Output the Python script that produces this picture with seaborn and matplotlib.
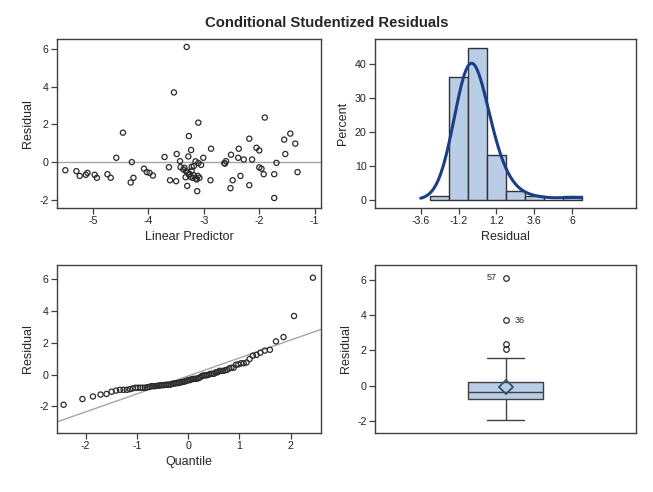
import numpy as np
import pandas as pd
import matplotlib
matplotlib.use("Agg")
import matplotlib.pyplot as plt
import seaborn as sns
from statistics import NormalDist

# Style
sns.set_style("ticks")
plt.rcParams["font.family"] = ["Liberation Sans", "DejaVu Sans"]
plt.rcParams["axes.unicode_minus"] = False

# Data
lin_pred = [-5.50, -5.30, -5.24, -5.13, -5.10, -4.97, -4.93, -4.74, -4.68, -4.58,
            -4.46, -4.32, -4.30, -4.27, -4.08, -4.03, -3.98, -3.92, -3.71, -3.63,
            -3.61, -3.54, -3.50, -3.49, -3.43, -3.42, -3.37, -3.33, -3.32, -3.31,
            -3.30, -3.29, -3.28, -3.27, -3.27, -3.24, -3.23, -3.22, -3.20, -3.18,
            -3.15, -3.14, -3.12, -3.11, -3.10, -3.10, -3.08, -3.01, -2.88, -2.87,
            -2.63, -2.60, -2.52, -2.51, -2.48, -2.37, -2.38, -2.34, -2.28, -2.18,
            -2.18, -2.13, -2.05, -2.00, -2.00, -1.96, -1.92, -1.90, -1.73, -1.73,
            -1.69, -1.55, -1.53, -1.44, -1.35, -1.31,
            -3.26, -3.18, -3.13, -3.35, -3.05, -3.22, -2.62]
resid = [-0.43, -0.48, -0.73, -0.67, -0.57, -0.67, -0.83, -0.64, -0.83, 0.23,
         1.56, -1.08, 0.00, -0.83, -0.35, -0.53, -0.57, -0.71, 0.27, -0.27,
         -0.96, 3.69, -1.01, 0.43, 0.05, -0.27, -0.39, -0.80, -0.48, 6.10,
         -1.26, -0.55, 0.30, 1.38, -0.66, -0.78, 0.64, -0.25, -0.83, -0.21,
         0.04, -0.87, -1.54, -0.73, -0.05, 2.09, -0.83, 0.23, -0.96, 0.71,
         -0.05, 0.05, -1.38, 0.39, -0.96, 0.71, 0.23, -0.73, 0.14, 1.24,
         -1.22, 0.14, 0.76, 0.62, -0.28, -0.35, -0.64, 2.36, -0.64, -1.90,
         -0.04, 1.19, 0.43, 1.51, 0.98, -0.53,
         -0.62, -0.70, -0.92, -0.30, -0.15, -0.45, -0.08]
outlier_labels = ["57", "36"]  # observation numbers of the two largest residuals

hist_ticks = [-3.6, -1.2, 1.2, 3.6, 6]

df = pd.DataFrame({"lin_pred": lin_pred, "resid": resid})

# normal quantiles (Blom) for the Q-Q plot
n = len(resid)
df_qq = pd.DataFrame({"resid": np.sort(resid)})
df_qq["quantile"] = [NormalDist().inv_cdf((i + 1 - 0.375) / (n + 0.25)) for i in range(n)]

# Colors
FRAME = "#404040"
FILL = "#B9CDE6"
FIT = "#1B3F84"
REF = "#A6A6A6"
TICK_FS = 7.7
LAB_FS = 9

W, H = 653, 492
fig = plt.figure(figsize=(W / 100, H / 100), dpi=100)


def box(l, t, r, b):
    return [l / W, (H - b) / H, (r - l) / W, (b - t) / H]


ax1 = fig.add_axes(box(57, 39, 321, 208))
ax2 = fig.add_axes(box(375, 39, 636, 208))
ax3 = fig.add_axes(box(57, 265, 321, 433))
ax4 = fig.add_axes(box(375, 265, 636, 433))

fig.suptitle("Conditional Studentized Residuals", y=1 - 23 / H, va="center",
             fontsize=10.7, fontweight="bold")

circle = dict(marker="o", facecolor="none", edgecolor="#2b2b2b", s=14, linewidth=0.9)

# Residual vs linear predictor
ax1.axhline(0, color=REF, lw=1, zorder=1)
sns.scatterplot(x="lin_pred", y="resid", data=df, ax=ax1, **circle)
ax1.set_xlim(-5.65, -0.886)
ax1.set_ylim(-2.43, 6.52)
ax1.set_xticks([-5, -4, -3, -2, -1])
ax1.set_xlabel("Linear Predictor")
ax1.set_ylabel("Residual")

# Histogram with kernel density
sns.histplot(x=resid, ax=ax2, bins=np.arange(-3.0, 6.61, 1.2), stat="percent",
             color=FILL, alpha=1, edgecolor="#333333", linewidth=1,
             kde=True, kde_kws={"bw_adjust": 1.95, "cut": 3, "clip": (-3.6, 6.6)},
             line_kws={"lw": 2.2})
ax2.lines[0].set_color(FIT)
ax2.set_xlim(-6.5, 10.05)
ax2.set_ylim(-2.46, 47.2)
ax2.set_xticks(hist_ticks)
ax2.set_xticklabels(["-3.6", "-1.2", "1.2", "3.6", "6"])
ax2.set_yticks([0, 10, 20, 30, 40])
ax2.set_xlabel("Residual")
ax2.set_ylabel("Percent")

# Q-Q plot
mu, sd = np.mean(resid), np.std(resid, ddof=1)
ax3.axline((0, mu), slope=sd, color=REF, lw=1, zorder=1)
sns.scatterplot(x="quantile", y="resid", data=df_qq, ax=ax3, **circle)
ax3.set_xlim(-2.56, 2.59)
ax3.set_ylim(-3.68, 6.9)
ax3.set_xticks([-2, -1, 0, 1, 2])
ax3.set_xlabel("Quantile")
ax3.set_ylabel("Residual")

# Box plot
sns.boxplot(y=resid, ax=ax4, width=0.29, color=FILL, saturation=1, linewidth=1,
            linecolor=FRAME, showmeans=True,
            meanprops=dict(marker="D", markerfacecolor="none", markeredgecolor="#34506e",
                           markersize=7, markeredgewidth=1.3),
            flierprops=dict(marker="o", markerfacecolor="none", markeredgecolor="#2b2b2b",
                            markersize=4, markeredgewidth=0.9))
ax4.set_xlim(-0.5, 0.5)
ax4.set_ylim(-2.66, 6.82)
top_two = sorted(resid, reverse=True)[:2]
ax4.text(-0.035, top_two[0], outlier_labels[0], ha="right", va="center", fontsize=6.5)
ax4.text(0.035, top_two[1], outlier_labels[1], ha="left", va="center", fontsize=6.5)
ax4.set_xticks([])
ax4.set_ylabel("Residual")

for ax in (ax1, ax2, ax3, ax4):
    for sp in ax.spines.values():
        sp.set_visible(True)
        sp.set_color(FRAME)
        sp.set_linewidth(1)
    ax.tick_params(labelsize=TICK_FS, colors="#222222", length=4, width=0.9, pad=2)
    ax.tick_params(axis="both", color=FRAME)
    ax.xaxis.label.set_size(LAB_FS)
    ax.yaxis.label.set_size(LAB_FS)
    ax.xaxis.labelpad = 3
    ax.yaxis.labelpad = 4
for ax in (ax1, ax3, ax4):
    ax.set_yticks([-2, 0, 2, 4, 6])

fig.savefig("out.png", dpi=100)
plt.close(fig)
